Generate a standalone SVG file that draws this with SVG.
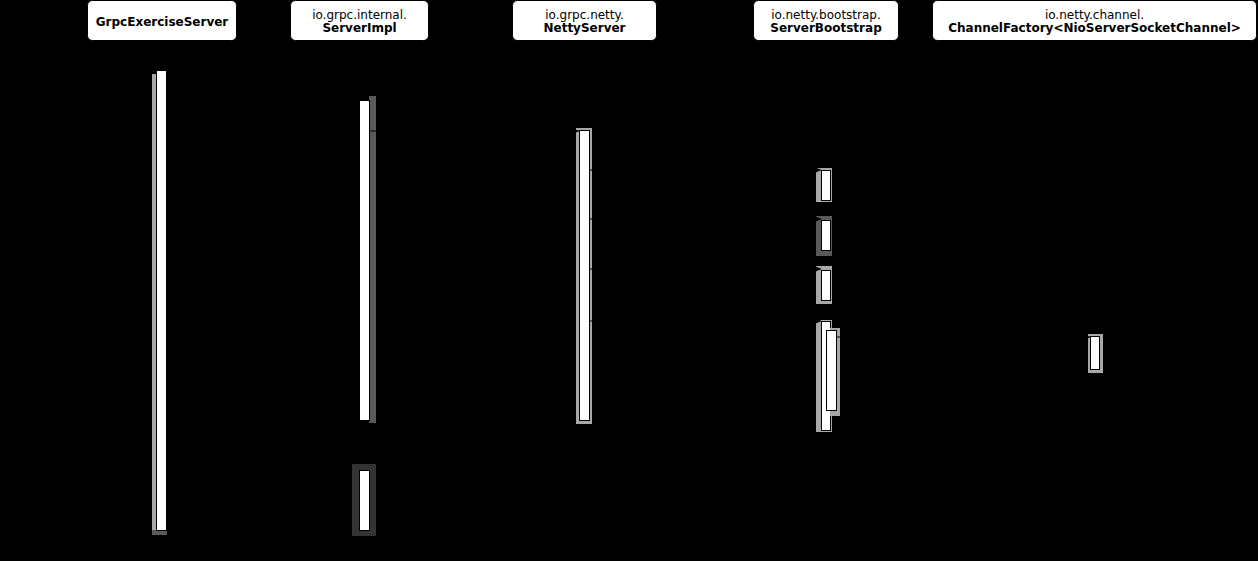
<svg xmlns="http://www.w3.org/2000/svg" width="1258" height="561" viewBox="0 0 1258 561">
<style>
.hdr{fill:#fff;stroke:#000;stroke-width:1}
.t{font-family:"DejaVu Sans",Verdana,sans-serif;font-size:12px;fill:#000;text-anchor:middle}
.b{font-weight:bold}
.act{fill:#fff;stroke:#000;stroke-width:1}
.sh{fill:#a8a8a8}
.shd{fill:#5a5a5a}
.shx{fill:#333}
.msg{stroke:#000;stroke-width:1;fill:none}
</style>
<defs>
<marker id="arr" viewBox="0 0 10 10" refX="10" refY="5" markerWidth="7" markerHeight="7" orient="auto"><path d="M0,0L10,5L0,10z" fill="#000"/></marker>
</defs>
<rect x="0" y="0" width="1258" height="561" fill="#000"/>
<g id="node-grpcexerciseserver">
<rect class="hdr" x="87.5" y="0.5" width="149" height="40" rx="5"/>
<text class="t b" x="162" y="26">GrpcExerciseServer</text>
<rect class="sh" x="152" y="74" width="5" height="461"/>
<rect class="shd" x="152" y="530" width="15" height="5"/>
<rect class="act" x="156.5" y="70.5" width="10" height="460"/>
</g>
<g id="node-serverimpl">
<rect class="hdr" x="290.5" y="0.5" width="138" height="40" rx="5"/>
<text class="t" x="359.5" y="19">io.grpc.internal.</text>
<text class="t b" x="359.5" y="32">ServerImpl</text>
<rect class="shd" x="369" y="96" width="7" height="327"/>
<rect class="act" x="359.5" y="100.5" width="10" height="320"/>
<rect class="shx" x="352" y="464" width="24" height="72"/>
<rect class="act" x="359.5" y="470.5" width="10" height="60"/>
</g>
<g id="node-nettyserver">
<rect class="hdr" x="512.5" y="0.5" width="144" height="40" rx="5"/>
<text class="t" x="584.5" y="19">io.grpc.netty.</text>
<text class="t b" x="584.5" y="32">NettyServer</text>
<rect class="sh" x="576" y="128" width="16" height="296"/>
<rect class="act" x="579.5" y="130.5" width="10" height="290"/>
</g>
<g id="node-serverbootstrap">
<rect class="hdr" x="753.5" y="0.5" width="145" height="40" rx="5"/>
<text class="t" x="826" y="19">io.netty.bootstrap.</text>
<text class="t b" x="826" y="32">ServerBootstrap</text>
<rect class="sh" x="816" y="168" width="16" height="34"/>
<rect class="act" x="821.5" y="170.5" width="9" height="30"/>
<rect class="shd" x="816" y="216" width="16" height="40"/>
<rect class="act" x="821.5" y="220.5" width="9" height="30"/>
<rect class="sh" x="816" y="266" width="16" height="38"/>
<rect class="act" x="821.5" y="270.5" width="9" height="30"/>
<rect class="sh" x="816" y="320" width="16" height="112"/>
<rect class="act" x="821.5" y="321.5" width="9" height="109"/>
<rect class="sh" x="830" y="328" width="10" height="88"/>
<rect class="act" x="826.5" y="330.5" width="10" height="80"/>
</g>
<g id="node-channelfactory">
<rect class="hdr" x="932.5" y="0.5" width="324" height="40" rx="5"/>
<text class="t" x="1094.5" y="19">io.netty.channel.</text>
<text class="t b" x="1094.5" y="32">ChannelFactory&lt;NioServerSocketChannel&gt;</text>
<rect class="sh" x="1088" y="334" width="15" height="39"/>
<rect class="act" x="1090.5" y="336.5" width="9" height="33"/>
</g>
<g id="connectors">
<line class="msg" x1="167" y1="100" x2="359" y2="100" marker-end="url(#arr)"/>
<line class="msg" x1="370" y1="131" x2="579" y2="131" marker-end="url(#arr)"/>
<line class="msg" x1="590" y1="170" x2="821" y2="170" marker-end="url(#arr)"/>
<line class="msg" x1="590" y1="219" x2="821" y2="219" marker-end="url(#arr)"/>
<line class="msg" x1="590" y1="269" x2="821" y2="269" marker-end="url(#arr)"/>
<line class="msg" x1="590" y1="321" x2="821" y2="321" marker-end="url(#arr)"/>
<line class="msg" x1="837" y1="337" x2="1090" y2="337" marker-end="url(#arr)"/>
</g>
</svg>
